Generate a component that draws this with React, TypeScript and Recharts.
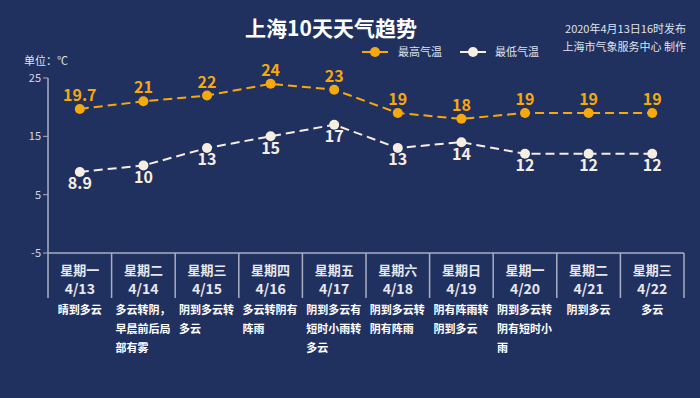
import { LineChart, Line, XAxis, YAxis } from 'recharts'

const days = ['星期一', '星期二', '星期三', '星期四', '星期五', '星期六', '星期日', '星期一', '星期二', '星期三']
const dates = ['4/13', '4/14', '4/15', '4/16', '4/17', '4/18', '4/19', '4/20', '4/21', '4/22']
const weather = [
  '晴到多云',
  '多云转阴，早晨前后局部有雾',
  '阴到多云转多云',
  '多云转阴有阵雨',
  '阴到多云有短时小雨转多云',
  '阴到多云转阴有阵雨',
  '阴有阵雨转阴到多云',
  '阴到多云转阴有短时小雨',
  '阴到多云',
  '多云',
]
const highTemps = [19.7, 21, 22, 24, 23, 19, 18, 19, 19, 19]
const lowTemps = [8.9, 10, 13, 15, 17, 13, 14, 12, 12, 12]
const yTicks = [25, 15, 5, -5]

const data = dates.map((d, i) => ({ date: d, high: highTemps[i], low: lowTemps[i] }))

const BG = '#21315f'
const ORANGE = '#f7a80c'
const CREAM = '#f7eee2'
const FONT = '"Noto Sans CJK SC", "Noto Sans", sans-serif'
const COL_W = (700 - 48 - 16) / 10

// 5 chars per line like the original
const wrap = (s: string) => {
  const out: string[] = []
  const chars = Array.from(s)
  for (let i = 0; i < chars.length; i += 5) out.push(chars.slice(i, i + 5).join(''))
  return out
}

function DayTick(props: any) {
  const { x, y, index } = props
  const half = COL_W / 2
  const lines = wrap(weather[index])
  const multi = lines.length > 1
  return (
    <g>
      {index === 0 && <line x1={x - half} y1={y} x2={x - half} y2={y + 45} stroke="#a9aec0" strokeWidth={1.5} />}
      <line x1={x + half} y1={y} x2={x + half} y2={y + 45} stroke="#a9aec0" strokeWidth={1.5} />
      <text x={x} y={y + 22} textAnchor="middle" fill="#e6e8f0" fontSize={13} fontWeight="bold" fontFamily={FONT}>
        {days[index]}
      </text>
      <text x={x} y={y + 41} textAnchor="middle" fill="#e6e8f0" fontSize={14} fontWeight="bold" fontFamily={FONT}>
        {dates[index]}
      </text>
      {lines.map((l, i) => (
        <text
          key={i}
          x={multi ? x - 28 : x}
          y={y + 61 + i * 19}
          textAnchor={multi ? 'start' : 'middle'}
          fill="#ffffff"
          fontSize={11}
          fontWeight="bold"
          fontFamily={FONT}
        >
          {l}
        </text>
      ))}
    </g>
  )
}

export default function App() {
  return (
    <div style={{ position: 'fixed', left: 0, top: 0, width: 700, height: 398, background: BG, fontFamily: FONT }}>
      <div style={{ position: 'absolute', left: 0, width: 662, top: 12, textAlign: 'center', color: '#fff', fontSize: 21, fontWeight: 'bold' }}>
        上海10天天气趋势
      </div>
      <div style={{ position: 'absolute', right: 14, top: 19, textAlign: 'right', color: '#dfe2ea', fontSize: 11, lineHeight: '18px' }}>
        <div>2020年4月13日16时发布</div>
        <div>上海市气象服务中心 制作</div>
      </div>
      <div style={{ position: 'absolute', left: 24, top: 52, color: '#dfe2ea', fontSize: 11 }}>单位：℃</div>
      <svg style={{ position: 'absolute', left: 0, top: 0 }} width={700} height={70}>
        <line x1={362} y1={52} x2={388} y2={52} stroke={ORANGE} strokeWidth={2} />
        <circle cx={375} cy={52} r={5} fill={ORANGE} />
        <text x={398} y={56} fill="#dfe2ea" fontSize={11} fontFamily={FONT}>最高气温</text>
        <line x1={460} y1={52} x2={486} y2={52} stroke={CREAM} strokeWidth={2} />
        <circle cx={473} cy={52} r={5} fill={CREAM} />
        <text x={495} y={56} fill="#dfe2ea" fontSize={11} fontFamily={FONT}>最低气温</text>
      </svg>
      <div style={{ position: 'absolute', left: 0, top: 0 }}>
        <LineChart width={700} height={398} data={data} margin={{ top: 78, right: 16, left: 0, bottom: 0 }}>
          <XAxis
            dataKey="date"
            height={145}
            padding={{ left: COL_W / 2, right: COL_W / 2 }}
            axisLine={{ stroke: '#a9aec0', strokeWidth: 1.5 }}
            tickLine={false}
            tickSize={0}
            tickMargin={0}
            interval={0}
            tick={<DayTick />}
          />
          <YAxis
            width={48}
            domain={[-5, 25]}
            ticks={yTicks}
            interval={0}
            axisLine={{ stroke: '#a9aec0', strokeWidth: 1.5 }}
            tickLine={{ stroke: '#a9aec0' }}
            tickSize={5}
            tick={{ fill: '#d5d8e2', fontSize: 11, fontFamily: FONT }}
          />
          <Line
            dataKey="high"
            stroke={ORANGE}
            strokeWidth={2}
            strokeDasharray="9 5"
            dot={{ r: 5, fill: ORANGE, stroke: 'none' }}
            label={{ position: 'top', offset: 8, fill: ORANGE, fontSize: 16, fontWeight: 'bold', fontFamily: FONT }}
            isAnimationActive={false}
          />
          <Line
            dataKey="low"
            stroke={CREAM}
            strokeWidth={2}
            strokeDasharray="9 5"
            dot={{ r: 5, fill: CREAM, stroke: 'none' }}
            label={{ position: 'bottom', offset: 6, fill: CREAM, fontSize: 16, fontWeight: 'bold', fontFamily: FONT }}
            isAnimationActive={false}
          />
        </LineChart>
      </div>
    </div>
  )
}
